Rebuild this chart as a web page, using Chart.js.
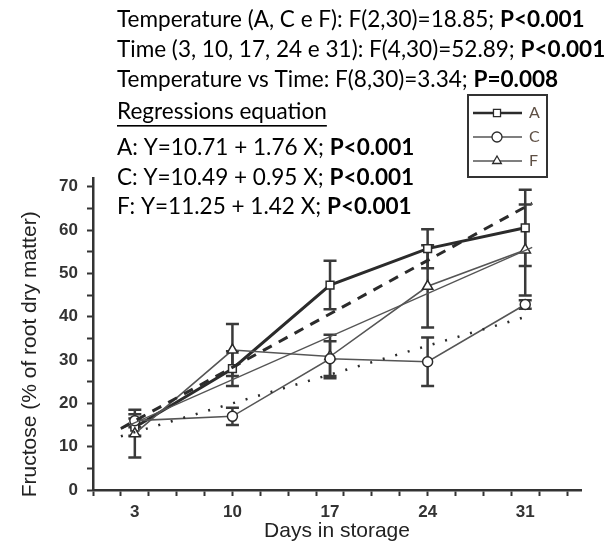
<!DOCTYPE html>
<html>
<head>
<meta charset="utf-8">
<script src="https://cdn.jsdelivr.net/npm/chart.js@4.4.0/dist/chart.umd.min.js"></script>
<style>
  html, body { margin: 0; padding: 0; background: #fff; }
  #wrap { width: 616px; height: 552px; }
</style>
</head>
<body>
<div id="wrap"><canvas id="fructoseChart"></canvas></div>
<script>
// days in storage
const days = [3, 10, 17, 24, 31];
const xLabels = [3, 10, 17, 24, 31];

// fructose, % of root dry matter (means)
const valuesA = [14.5, 28, 47.3, 55.7, 60.5];
const valuesC = [16, 17, 30.3, 29.6, 42.8];
const valuesF = [13, 32.3, 30.8, 47, 55.4];

// error bars (+/-)
const errA = [2, 4, 5.6, 4.5, 8.8];
const errC = [1.5, 2, 4, 5.6, 1];
const errF = [5.5, 6, 5, 9.5, 10.5];

// regression lines, both ends
const regX = [2, 31.5];
const regA = [14.2, 66.2];
const regC = [12.4, 40.4];
const regF = [14.1, 56];

// stats text block: [text, bold]
const statLines = [
  [["Temperature (A, C e F): F(2,30)=18.85; ", false], ["P<0.001", true]],
  [["Time (3, 10, 17, 24 e 31): F(4,30)=52.89; ", false], ["P<0.001", true]],
  [["Temperature vs Time: F(8,30)=3.34; ", false], ["P=0.008", true]],
  [["Regressions equation", false]],
  [["A: Y=10.71 + 1.76 X; ", false], ["P<0.001", true]],
  [["C: Y=10.49 + 0.95 X; ", false], ["P<0.001", true]],
  [["F: Y=11.25 + 1.42 X; ", false], ["P<0.001", true]]
];
const statY = [20, 50, 80, 112, 148, 178, 207];

const legendNames = ["A", "C", "F"];
const legendStyles = ["rect", "circle", "triangle"];
const yTitle = "Fructose (% of root dry matter)";

function pts(ys) {
  return days.map((d, i) => ({ x: d, y: ys[i] }));
}
function line(ys) {
  return regX.map((d, i) => ({ x: d, y: ys[i] }));
}

const dark = "#2b2b2b";
const grey = "#555";

const data = {
  datasets: [
    { label: "regA", data: line(regA), borderColor: dark, borderWidth: 3, borderDash: [10, 8], pointRadius: 0 },
    { label: "regC", data: line(regC), borderColor: dark, borderWidth: 2.5, borderDash: [2, 11], pointRadius: 0 },
    { label: "regF", data: line(regF), borderColor: grey, borderWidth: 1.3, pointRadius: 0 },
    { label: "C", data: pts(valuesC), borderColor: grey, borderWidth: 1.6, pointStyle: "circle", pointRadius: 5,
      pointBackgroundColor: "#fff", pointBorderColor: dark, pointBorderWidth: 1.5 },
    { label: "F", data: pts(valuesF), borderColor: grey, borderWidth: 1.6, pointStyle: "triangle", pointRadius: 6,
      pointBackgroundColor: "#fff", pointBorderColor: dark, pointBorderWidth: 1.5 },
    { label: "A", data: pts(valuesA), borderColor: dark, borderWidth: 3, pointStyle: "rect", pointRadius: 5.5,
      pointBackgroundColor: "#fff", pointBorderColor: dark, pointBorderWidth: 1.5 }
  ]
};

// error bars drawn under the markers
const errorBars = {
  id: "errorBars",
  beforeDatasetsDraw(chart) {
    const { ctx, scales: { x, y } } = chart;
    const sets = [[valuesA, errA], [valuesC, errC], [valuesF, errF]];
    ctx.save();
    ctx.strokeStyle = "#3a3a3a";
    ctx.lineWidth = 2.5;
    sets.forEach(([vals, errs]) => {
      days.forEach((d, i) => {
        const px = x.getPixelForValue(d);
        const top = y.getPixelForValue(vals[i] + errs[i]);
        const bot = y.getPixelForValue(vals[i] - errs[i]);
        ctx.beginPath();
        ctx.moveTo(px, top); ctx.lineTo(px, bot);
        ctx.moveTo(px - 6.5, top); ctx.lineTo(px + 6.5, top);
        ctx.moveTo(px - 6.5, bot); ctx.lineTo(px + 6.5, bot);
        ctx.stroke();
      });
    });
    ctx.restore();
  }
};

// stats text, y title and the boxed legend
const annotations = {
  id: "annotations",
  afterDraw(chart) {
    const ctx = chart.ctx;
    ctx.save();
    ctx.textBaseline = "middle";
    ctx.fillStyle = "#000";
    statLines.forEach((segs, li) => {
      ctx.save();
      ctx.translate(117, statY[li]);
      ctx.scale(0.98, 1);
      let x = 0;
      segs.forEach(([txt, bold]) => {
        ctx.font = (bold ? "bold " : "") + "23px Lato";
        ctx.fillText(txt, x, 0);
        const w = ctx.measureText(txt).width;
        if (li === 3) {
          ctx.fillRect(x, 13, w, 1.6);
        }
        x += w;
      });
      ctx.restore();
    });

    // y axis title
    const y = chart.scales.y;
    ctx.save();
    ctx.translate(30, (y.getPixelForValue(0) + y.getPixelForValue(70)) / 2 + 16);
    ctx.rotate(-Math.PI / 2);
    ctx.textAlign = "center";
    ctx.fillStyle = "#222";
    ctx.font = "21px 'Liberation Sans'";
    ctx.fillText(yTitle, 0, 0);
    ctx.restore();

    // legend box
    ctx.strokeStyle = "#333";
    ctx.lineWidth = 2;
    ctx.strokeRect(468, 95, 79, 82);
    legendNames.forEach((name, i) => {
      const ly = 113 + i * 24;
      ctx.beginPath();
      ctx.strokeStyle = i === 0 ? dark : grey;
      ctx.lineWidth = i === 0 ? 2.5 : 1.5;
      ctx.moveTo(473, ly); ctx.lineTo(522, ly);
      ctx.stroke();
      ctx.fillStyle = "#fff";
      ctx.strokeStyle = dark;
      ctx.lineWidth = 1.3;
      Chart.helpers.drawPoint(ctx, { pointStyle: legendStyles[i], radius: 5, borderWidth: 1.3 }, 497, ly);
      ctx.fillStyle = "#5e4f44";
      ctx.font = "16px Lato";
      ctx.fillText(name, 529, ly);
    });
    ctx.restore();
  }
};

const tickFont = { family: "Liberation Sans", size: 17, weight: "bold" };

const config = {
  type: "line",
  data,
  plugins: [errorBars, annotations],
  options: {
    responsive: false,
    animation: false,
    layout: { padding: { top: 178, right: 35, left: 0, bottom: 0 } },
    plugins: { legend: { display: false }, tooltip: { enabled: false } },
    scales: {
      x: {
        type: "linear",
        min: 0,
        max: 35,
        afterFit: (s) => { s.height = 62; },
        afterBuildTicks: (s) => {
          const t = [];
          for (let v = 0; v <= 34; v++) {
            if (v % 2 === 0 || xLabels.includes(v)) t.push({ value: v });
          }
          s.ticks = t;
        },
        ticks: {
          autoSkip: false, maxRotation: 0, padding: 6, color: "#333", font: tickFont,
          callback: (v) => (xLabels.includes(v) ? v : "")
        },
        grid: {
          drawOnChartArea: false, tickLength: 6, tickWidth: 2,
          tickColor: (c) => (c.tick && c.tick.value % 2 === 0 ? "#333" : "rgba(0,0,0,0)")
        },
        border: { color: "#333", width: 2.5 },
        title: { display: true, text: "Days in storage", color: "#222",
          font: { family: "Liberation Sans", size: 21 }, padding: { bottom: 8, top: 0 } }
      },
      y: {
        min: 0,
        max: 72,
        afterFit: (s) => { s.width = 93; },
        afterBuildTicks: (s) => {
          const t = [];
          for (let v = 0; v <= 70; v += 5) t.push({ value: v });
          s.ticks = t;
        },
        ticks: {
          autoSkip: false, padding: 9, color: "#333", font: tickFont,
          callback: (v) => (v % 10 === 0 ? v : "")
        },
        grid: {
          drawOnChartArea: false, tickLength: 6, tickWidth: 2,
          tickColor: "#333"
        },
        border: { color: "#333", width: 2.5 },
        title: { display: false }
      }
    }
  }
};

const canvas = document.getElementById("fructoseChart");
canvas.width = 616;
canvas.height = 552;
const myChart = new Chart(canvas, config);
</script>
</body>
</html>
